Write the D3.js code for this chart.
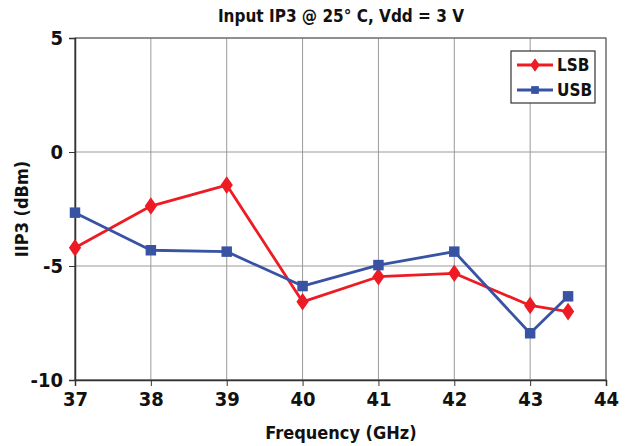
<!DOCTYPE html>
<html>
<head>
<meta charset="utf-8">
<script src="https://cdn.jsdelivr.net/npm/d3@7"></script>
<style>
  body { margin: 0; background: #fff; }
  svg text { font-family: "DejaVu Sans Condensed", "Liberation Sans Narrow", sans-serif; font-weight: bold; fill: #111; }
</style>
</head>
<body>
<div id="chart"></div>
<script>
// data
var freqs = [37, 38, 39, 40, 41, 42, 43, 43.5];
var lsb = [-4.2, -2.37, -1.45, -6.57, -5.47, -5.32, -6.73, -7.0];
var usb = [-2.66, -4.31, -4.37, -5.88, -4.96, -4.37, -7.95, -6.33];
var xTicks = [37, 38, 39, 40, 41, 42, 43, 44];
var yTicks = [-10, -5, 0, 5];
var seriesNames = ["LSB", "USB"];
var colors = ["#ed1c24", "#3953a4"];

var width = 631, height = 446;
var margin = { top: 38, right: 25, bottom: 66, left: 75 };

var svg = d3.select("#chart").append("svg")
    .attr("width", width)
    .attr("height", height);

var x = d3.scaleLinear().domain([37, 44]).range([margin.left, width - margin.right]);
var y = d3.scaleLinear().domain([-10, 5]).range([height - margin.bottom, margin.top]);

// gridlines
svg.append("g").selectAll("line.vg")
    .data(xTicks)
    .enter().append("line")
    .attr("x1", function(d) { return x(d); })
    .attr("x2", function(d) { return x(d); })
    .attr("y1", y(5))
    .attr("y2", y(-10))
    .attr("stroke", "#9a9a9a")
    .attr("stroke-width", 1);

svg.append("g").selectAll("line.hg")
    .data(yTicks)
    .enter().append("line")
    .attr("x1", x(37))
    .attr("x2", x(44))
    .attr("y1", function(d) { return y(d); })
    .attr("y2", function(d) { return y(d); })
    .attr("stroke", "#9a9a9a")
    .attr("stroke-width", 1);

// frame
svg.append("rect")
    .attr("x", x(37))
    .attr("y", y(5))
    .attr("width", x(44) - x(37))
    .attr("height", y(-10) - y(5))
    .attr("fill", "none")
    .attr("stroke", "#555")
    .attr("stroke-width", 1);

// plain hyphen for negatives, like the reference
function fmt(d) { return String(d); }

// axes
var xAxis = svg.append("g")
    .attr("transform", "translate(0," + y(-10) + ")")
    .call(d3.axisBottom(x).tickValues(xTicks).tickSize(6).tickPadding(6).tickFormat(fmt));
xAxis.select(".domain").attr("stroke", "#333").attr("stroke-width", 1.5);
xAxis.selectAll(".tick line").attr("stroke", "#333");
xAxis.selectAll("text").style("font-size", "20px").attr("fill", "#111");

var yAxis = svg.append("g")
    .attr("transform", "translate(" + x(37) + ",0)")
    .call(d3.axisLeft(y).tickValues(yTicks).tickSize(6).tickPadding(6).tickFormat(fmt));
yAxis.select(".domain").attr("stroke", "#333").attr("stroke-width", 1.5);
yAxis.selectAll(".tick line").attr("stroke", "#333");
yAxis.selectAll("text").style("font-size", "20px").attr("fill", "#111");

// titles
svg.append("text")
    .attr("x", 341)
    .attr("y", 22)
    .attr("text-anchor", "middle")
    .style("font-size", "17px")
    .text("Input IP3 @ 25° C, Vdd = 3 V");

svg.append("text")
    .attr("x", 341)
    .attr("y", 439)
    .attr("text-anchor", "middle")
    .style("font-size", "18px")
    .text("Frequency (GHz)");

svg.append("text")
    .attr("transform", "translate(28," + 209 + ") rotate(-90)")
    .attr("text-anchor", "middle")
    .style("font-size", "18px")
    .text("IIP3 (dBm)");

// series
var line = d3.line()
    .x(function(d, i) { return x(freqs[i]); })
    .y(function(d) { return y(d); });

var diamond = d3.symbol().type(d3.symbolDiamond2).size(150);
var square = d3.symbol().type(d3.symbolSquare).size(110);

function drawSeries(vals, color, sym) {
    var g = svg.append("g");
    g.append("path")
        .datum(vals)
        .attr("d", line)
        .attr("fill", "none")
        .attr("stroke", color)
        .attr("stroke-width", 2.8)
        .attr("stroke-linejoin", "round");
    g.selectAll("path.pt")
        .data(vals)
        .enter().append("path")
        .attr("class", "pt")
        .attr("d", sym)
        .attr("transform", function(d, i) {
            var s = sym === diamond ? "scale(0.8,1.15)" : "";
            return "translate(" + x(freqs[i]) + "," + y(d) + ")" + s;
        })
        .attr("fill", color);
}

drawSeries(lsb, colors[0], diamond);
drawSeries(usb, colors[1], square);

// legend
var legend = svg.append("g").attr("transform", "translate(511,51)");
legend.append("rect")
    .attr("width", 84)
    .attr("height", 52)
    .attr("fill", "#fff")
    .attr("stroke", "#333")
    .attr("stroke-width", 1.2);

var items = legend.selectAll(".legend")
    .data(seriesNames)
    .enter().append("g")
    .attr("class", "legend")
    .attr("transform", function(d, i) { return "translate(0," + (14 + 25 * i) + ")"; });

items.append("line")
    .attr("x1", 6).attr("x2", 42)
    .attr("stroke", function(d, i) { return colors[i]; })
    .attr("stroke-width", 2.8);

items.append("path")
    .attr("d", function(d, i) {
        return i === 0 ? d3.symbol().type(d3.symbolDiamond2).size(90)() : d3.symbol().type(d3.symbolSquare).size(60)();
    })
    .attr("transform", function(d, i) { return i === 0 ? "translate(24,0) scale(0.8,1.15)" : "translate(24,0)"; })
    .attr("fill", function(d, i) { return colors[i]; });

items.append("text")
    .attr("x", 46)
    .attr("y", 6)
    .style("font-size", "17px")
    .text(function(d) { return d; });
</script>
</body>
</html>
